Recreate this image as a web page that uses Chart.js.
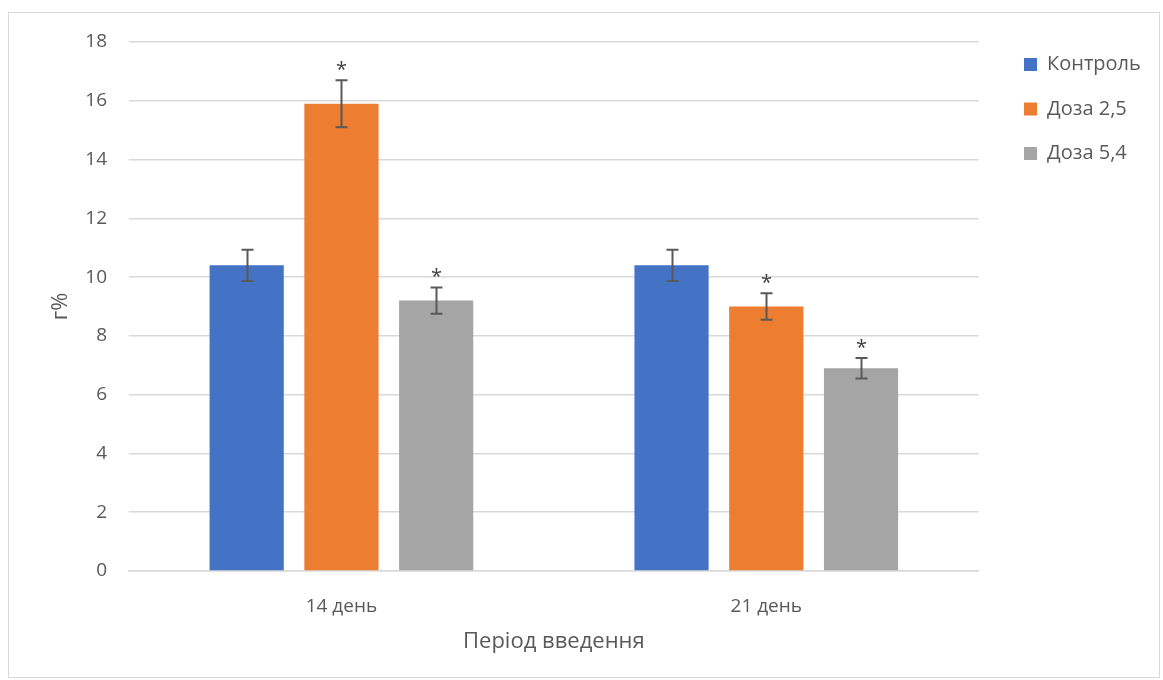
<!DOCTYPE html>
<html>
<head>
<meta charset="utf-8">
<script src="https://cdn.jsdelivr.net/npm/chart.js@4"></script>
<style>
	html, body { margin: 0; padding: 0; background: #fff; }
	#wrap { width: 1163px; height: 680px; position: relative; }
</style>
</head>
<body>
<div id="wrap"><canvas id="js-canvas" width="1163" height="680"></canvas></div>
<script>
const canvas = document.getElementById('js-canvas')

// Data
const periods = ['14 день', '21 день']
const seriesNames = ['Контроль', 'Доза 2,5', 'Доза 5,4']
const control = [10.4, 10.4]
const dose25 = [15.9, 9.0]
const dose54 = [9.2, 6.9]
const controlErr = [0.53, 0.53]
const dose25Err = [0.8, 0.45]
const dose54Err = [0.45, 0.35]
// asterisk = significant difference
const controlSig = [false, false]
const dose25Sig = [true, true]
const dose54Sig = [true, true]
const yTicks = [0, 2, 4, 6, 8, 10, 12, 14, 16, 18]

const colors = ['#4472C4', '#ED7D31', '#A5A5A5']
const FONT = "'Open Sans', 'Noto Sans', sans-serif"

const errors = [controlErr, dose25Err, dose54Err]
const signs = [controlSig, dose25Sig, dose54Sig]

// Outer frame like the office chart + legend placement
const framePlugin = {
	id: 'frame',
	beforeLayout(chart) {
		// legend box a bit wider so the plot ends where the original does
		const lg = chart.legend
		if (lg && !lg._wider) {
			const fit = lg.fit
			lg.fit = function () {
				fit.call(this)
				this.width += 23
			}
			lg._wider = true
		}
	},
	afterLayout(chart) {
		const lg = chart.legend
		lg.left = 1024 - lg.options.labels.padding
		lg.top = 30
	},
	beforeDraw(chart) {
		const ctx = chart.ctx
		ctx.save()
		ctx.fillStyle = '#fff'
		ctx.fillRect(0, 0, chart.width, chart.height)
		ctx.strokeStyle = '#D9D9D9'
		ctx.lineWidth = 1
		ctx.strokeRect(8.5, 12.5, 1151, 665)
		ctx.restore()
	}
}

// Error bars and asterisks
const errorPlugin = {
	id: 'errorBars',
	afterDatasetsDraw(chart) {
		const ctx = chart.ctx
		const y = chart.scales.y
		ctx.save()
		chart.data.datasets.forEach((ds, i) => {
			const meta = chart.getDatasetMeta(i)
			meta.data.forEach((bar, j) => {
				const v = ds.data[j]
				const e = errors[i][j]
				const yTop = y.getPixelForValue(v + e)
				const yBot = y.getPixelForValue(v - e)
				const x = Math.round(bar.x) + 0.5
				ctx.strokeStyle = '#595959'
				ctx.lineWidth = 2
				ctx.beginPath()
				ctx.moveTo(x, yTop)
				ctx.lineTo(x, yBot)
				ctx.moveTo(x - 6, yTop)
				ctx.lineTo(x + 6, yTop)
				ctx.moveTo(x - 6, yBot)
				ctx.lineTo(x + 6, yBot)
				ctx.stroke()
				if (signs[i][j]) {
					ctx.fillStyle = '#404040'
					ctx.font = '20px ' + FONT
					ctx.textAlign = 'center'
					ctx.textBaseline = 'middle'
					ctx.fillText('*', x, yTop - 10)
				}
			})
		})
		ctx.restore()
	}
}

const chart = new Chart(canvas, {
	type: 'bar',
	data: {
		labels: periods,
		datasets: [
			{ label: seriesNames[0], data: control, backgroundColor: colors[0] },
			{ label: seriesNames[1], data: dose25, backgroundColor: colors[1] },
			{ label: seriesNames[2], data: dose54, backgroundColor: colors[2] }
		]
	},
	options: {
		responsive: false,
		animation: false,
		devicePixelRatio: 1,
		categoryPercentage: 0.669,
		barPercentage: 0.783,
		layout: { padding: { top: 42, left: 10, right: 10, bottom: 20 } },
		plugins: {
			tooltip: { enabled: false },
			legend: {
				position: 'right',
				align: 'start',
				labels: {
					boxWidth: 13,
					boxHeight: 13,
					padding: 24.5,
					color: '#595959',
					font: { family: FONT, size: 20 }
				}
			}
		},
		scales: {
			x: {
				afterFit(axis) { axis.height = 680 - 571 - 20 },
				grid: { display: false },
				border: { color: '#D9D9D9', width: 1.5 },
				ticks: { color: '#595959', font: { family: FONT, size: 19 }, padding: 16 },
				title: {
					display: true,
					text: 'Період введення',
					color: '#595959',
					font: { family: FONT, size: 22 },
					padding: { top: 4, bottom: 5 }
				}
			},
			y: {
				min: 0,
				max: 18,
				afterBuildTicks(axis) { axis.ticks = yTicks.map(v => ({ value: v })) },
				afterFit(axis) { axis.width = 129 - 10 },
				grid: { color: '#D9D9D9', lineWidth: 1.5, tickLength: 0 },
				border: { display: false },
				ticks: { color: '#595959', font: { family: FONT, size: 19 }, padding: 22 },
				title: {
					display: true,
					text: 'г%',
					color: '#595959',
					font: { family: FONT, size: 22 },
					padding: { top: 38, bottom: 6 }
				}
			}
		}
	},
	plugins: [framePlugin, errorPlugin]
})
</script>
</body>
</html>
